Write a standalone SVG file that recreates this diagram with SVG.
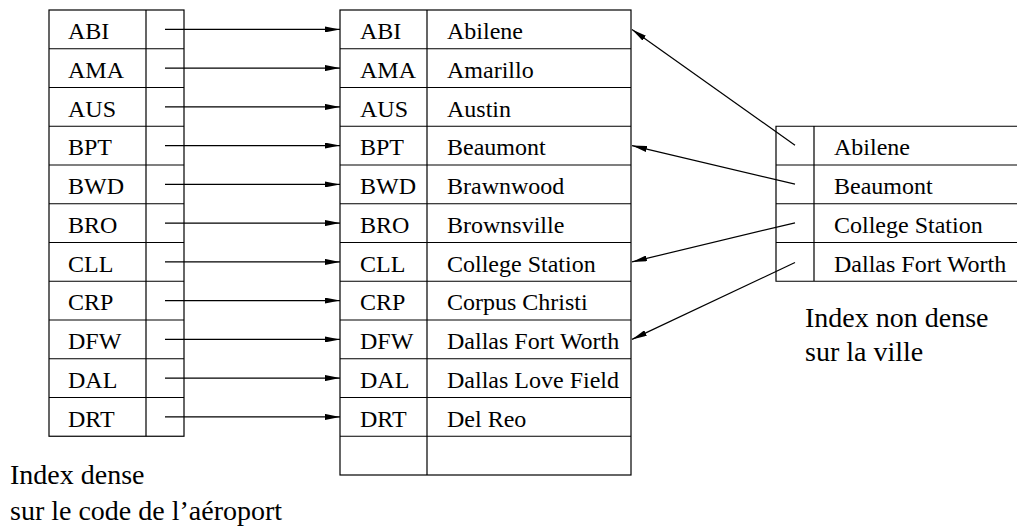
<svg xmlns="http://www.w3.org/2000/svg" width="1017" height="527" viewBox="0 0 1017 527">
<defs>
<style>
.t{font-family:"Liberation Serif","Times New Roman",serif;font-size:24px;fill:#000}
.l{font-family:"Liberation Serif","Times New Roman",serif;font-size:28px;fill:#000}
.b{fill:none;stroke:#000;stroke-width:1.2}
.c{fill:none;stroke:#000;stroke-width:1.2;marker-end:url(#ah)}
</style>
<marker id="ah" markerUnits="userSpaceOnUse" viewBox="0 0 15 6" refX="15" refY="3" markerWidth="15" markerHeight="6" orient="auto">
<path d="M0,0 L15,3 L0,6 z" fill="#000"/>
</marker>
</defs>
<rect width="1017" height="527" fill="#fff"/>
<g id="dense-index">
<rect class="b" x="49" y="10" width="135" height="426.25"/>
<path class="b" d="M146,10V436.25 M49,48.75H184 M49,87.5H184 M49,126.25H184 M49,165H184 M49,203.75H184 M49,242.5H184 M49,281.25H184 M49,320H184 M49,358.75H184 M49,397.5H184"/>
<text class="t" x="68" y="39">ABI</text>
<text class="t" x="68" y="77.75">AMA</text>
<text class="t" x="68" y="116.5">AUS</text>
<text class="t" x="68" y="155.25">BPT</text>
<text class="t" x="68" y="194">BWD</text>
<text class="t" x="68" y="232.75">BRO</text>
<text class="t" x="68" y="271.5">CLL</text>
<text class="t" x="68" y="310.25">CRP</text>
<text class="t" x="68" y="349">DFW</text>
<text class="t" x="68" y="387.75">DAL</text>
<text class="t" x="68" y="426.5">DRT</text>
</g>
<g id="data-table">
<rect class="b" x="340" y="10" width="291" height="465"/>
<path class="b" d="M427,10V475 M340,48.75H631 M340,87.5H631 M340,126.25H631 M340,165H631 M340,203.75H631 M340,242.5H631 M340,281.25H631 M340,320H631 M340,358.75H631 M340,397.5H631 M340,436.25H631"/>
<text class="t" x="360" y="39">ABI</text>
<text class="t" x="360" y="77.75">AMA</text>
<text class="t" x="360" y="116.5">AUS</text>
<text class="t" x="360" y="155.25">BPT</text>
<text class="t" x="360" y="194">BWD</text>
<text class="t" x="360" y="232.75">BRO</text>
<text class="t" x="360" y="271.5">CLL</text>
<text class="t" x="360" y="310.25">CRP</text>
<text class="t" x="360" y="349">DFW</text>
<text class="t" x="360" y="387.75">DAL</text>
<text class="t" x="360" y="426.5">DRT</text>
<text class="t" x="447" y="39">Abilene</text>
<text class="t" x="447" y="77.75">Amarillo</text>
<text class="t" x="447" y="116.5">Austin</text>
<text class="t" x="447" y="155.25">Beaumont</text>
<text class="t" x="447" y="194">Brawnwood</text>
<text class="t" x="447" y="232.75">Brownsville</text>
<text class="t" x="447" y="271.5">College Station</text>
<text class="t" x="447" y="310.25">Corpus Christi</text>
<text class="t" x="447" y="349">Dallas Fort Worth</text>
<text class="t" x="447" y="387.75">Dallas Love Field</text>
<text class="t" x="447" y="426.5">Del Reo</text>
</g>
<g id="sparse-index">
<path class="b" d="M1018,126.25H776V281.25H1018 M814,126.25V281.25 M776,165H1018 M776,203.75H1018 M776,242.5H1018"/>
<text class="t" x="834" y="155.25">Abilene</text>
<text class="t" x="834" y="194">Beaumont</text>
<text class="t" x="834" y="232.75">College Station</text>
<text class="t" x="834" y="271.5">Dallas Fort Worth</text>
</g>
<g id="labels">
<text class="l" x="10" y="484">Index dense</text>
<text class="l" x="10" y="520">sur le code de l’aéroport</text>
<text class="l" x="805" y="327">Index non dense</text>
<text class="l" x="805" y="361">sur la ville</text>
</g>
<g id="connectors">
<line class="c" x1="165" y1="29.4" x2="340" y2="29.4"/>
<line class="c" x1="165" y1="68.1" x2="340" y2="68.1"/>
<line class="c" x1="165" y1="106.9" x2="340" y2="106.9"/>
<line class="c" x1="165" y1="145.6" x2="340" y2="145.6"/>
<line class="c" x1="165" y1="184.4" x2="340" y2="184.4"/>
<line class="c" x1="165" y1="223.1" x2="340" y2="223.1"/>
<line class="c" x1="165" y1="261.9" x2="340" y2="261.9"/>
<line class="c" x1="165" y1="300.6" x2="340" y2="300.6"/>
<line class="c" x1="165" y1="339.4" x2="340" y2="339.4"/>
<line class="c" x1="165" y1="378.1" x2="340" y2="378.1"/>
<line class="c" x1="165" y1="416.9" x2="340" y2="416.9"/>
<line class="c" x1="795" y1="145.3" x2="632" y2="29.4"/>
<line class="c" x1="795" y1="184.1" x2="632" y2="145.6"/>
<line class="c" x1="795" y1="222.8" x2="632" y2="261.9"/>
<line class="c" x1="795" y1="262.5" x2="632" y2="339.4"/>
</g>
</svg>
